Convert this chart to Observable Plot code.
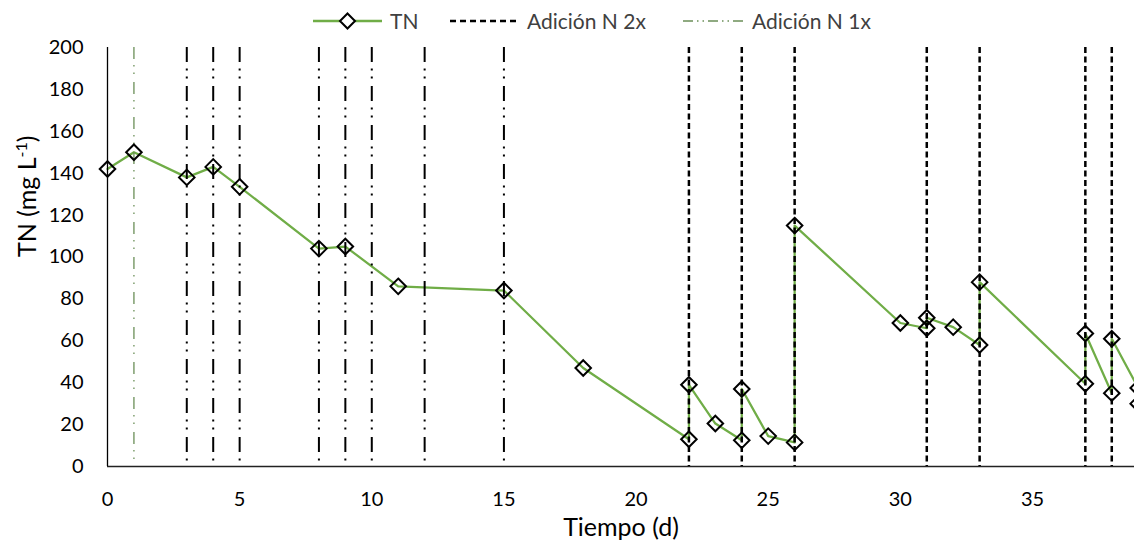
<!DOCTYPE html>
<html>
<head>
<meta charset="utf-8">
<script src="https://cdn.jsdelivr.net/npm/d3@7"></script>
<script src="https://cdn.jsdelivr.net/npm/@observablehq/plot@0.6"></script>
<style>
  body { margin: 0; background: #fff; font-family: Lato, "Open Sans", sans-serif; }
  #legend { position: relative; width: 1134px; height: 40px; }
  #legend svg, #legend span { position: absolute; }
  #legend span { top: 0; line-height: 42px; font-size: 21px; color: #404040; white-space: nowrap; }
</style>
</head>
<body>
<div id="legend"></div>
<div id="chart"></div>
<script>
// ---- data ----
const tnDay   = [0, 1, 3, 4, 5, 8, 9, 11, 15, 18, 22, 22, 23, 24, 24, 25, 26, 26, 30, 31, 31, 32, 33, 33, 37, 37, 38, 38, 39, 39];
const tnValue = [142, 150, 138, 143, 133.5, 104, 105, 86, 84, 47, 13, 39, 20.5, 12.5, 37, 14.5, 11.5, 115, 68.5, 66, 71, 66.5, 58, 88, 39.5, 63.5, 35, 61, 37.5, 30];
const addition2xDays = [22, 24, 26, 31, 33, 37, 38];
const addition1xDays = [1];
const otherAdditionDays = [3, 4, 5, 8, 9, 10, 12, 15];
const xTicks = [0, 5, 10, 15, 20, 25, 30, 35];
const yTicks = [0, 20, 40, 60, 80, 100, 120, 140, 160, 180, 200];
const seriesNames = ["TN", "Adición N 2x", "Adición N 1x"];
const xTitle = "Tiempo (d)";
const yTitle = "TN (mg L-1)";

const tn = tnDay.map((d, i) => ({day: d, value: tnValue[i]}));

const green = "#70AD47";
const chart = Plot.plot({
  width: 1134,
  height: 508,
  marginTop: 7,
  marginBottom: 82,
  marginLeft: 107,
  marginRight: 0,
  style: {fontFamily: "Lato, 'Open Sans', sans-serif", fontSize: "20px", color: "#000", overflow: "visible", background: "#fff"},
  x: {domain: [0, 38.86], ticks: xTicks, tickFormat: d => String(d), tickSize: 0, tickPadding: 25, label: null},
  y: {domain: [0, 200], ticks: yTicks, tickFormat: d => String(d), tickSize: 0, tickPadding: 24, label: null},
  marks: [
    Plot.line(tn, {x: "day", y: "value", stroke: green, strokeWidth: 2.25}),
    Plot.ruleX(addition1xDays, {stroke: "#6b8f58", strokeWidth: 1.3, strokeDasharray: "12,6,1.5,6,1.5,8"}),
    Plot.ruleX(otherAdditionDays, {stroke: "#000", strokeWidth: 2, strokeDasharray: "15,6.5,2,6,2,7.5"}),
    Plot.ruleX(addition2xDays, {stroke: "#000", strokeWidth: 2.5, strokeDasharray: "6,3.5"}),
    Plot.ruleY([0], {stroke: "#222", strokeWidth: 1.5}),
    Plot.ruleX([0], {stroke: "#000", strokeWidth: 1.3}),
    Plot.dot(tn, {x: "day", y: "value", symbol: "diamond2", r: 7, stroke: "#000", strokeWidth: 2, fill: "none"}),
    Plot.text([xTitle], {frameAnchor: "bottom", dy: 69, text: d => d, fontSize: 25, fill: "#000"}),
    Plot.text([yTitle], {frameAnchor: "left", dx: -80, rotate: -90, text: d => d, fontSize: 25, fill: "#000"})
  ]
});
document.getElementById("chart").appendChild(chart);

// superscript for the unit
for (const t of chart.querySelectorAll("text")) {
  if (t.textContent === yTitle) {
    t.innerHTML = 'TN (mg L<tspan dy="-9" font-size="16">-1</tspan><tspan dy="9">)</tspan>';
  }
}

// ---- legend ----
const legend = document.getElementById("legend");
const ns = "http://www.w3.org/2000/svg";
function swatch(left, w, build) {
  const s = document.createElementNS(ns, "svg");
  s.setAttribute("width", w); s.setAttribute("height", 40);
  s.style.left = left + "px"; s.style.top = "1px";
  s.innerHTML = build(w);
  legend.appendChild(s);
}
function label(left, text) {
  const sp = document.createElement("span");
  sp.style.left = left + "px";
  sp.textContent = text;
  legend.appendChild(sp);
}
swatch(313, 69, w => `<line x1="0" x2="${w}" y1="20" y2="20" stroke="${green}" stroke-width="2.5"/>
  <path d="M${w/2},12.5L${w/2+7.5},20L${w/2},27.5L${w/2-7.5},20Z" fill="#fff" stroke="#000" stroke-width="2"/>`);
label(390, seriesNames[0]);
swatch(450, 69, w => `<line x1="0" x2="${w}" y1="20" y2="20" stroke="#000" stroke-width="2.5" stroke-dasharray="6,4"/>`);
label(527, seriesNames[1]);
swatch(683, 61, w => `<line x1="0" x2="${w}" y1="20" y2="20" stroke="#6b8f58" stroke-width="1.3" stroke-dasharray="10,4,1.5,4,1.5,4"/>`);
label(752, seriesNames[2]);
</script>
</body>
</html>
